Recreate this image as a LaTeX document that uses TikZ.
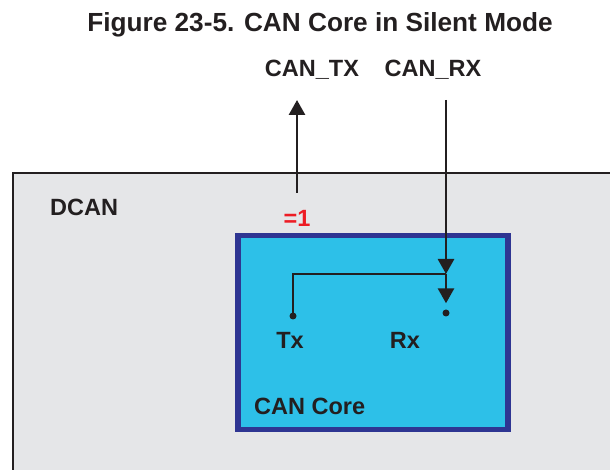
\documentclass[tikz,border=0pt]{standalone}
\usepackage{fontspec}
\setmainfont{Liberation Sans}
\usepackage{tikz}
\usetikzlibrary{arrows.meta,positioning}
\definecolor{dcangray}{HTML}{E5E6E8}
\definecolor{coreblue}{HTML}{2DC0E8}
\definecolor{coreedge}{HTML}{2E3592}
\definecolor{inkdark}{HTML}{231F20}
\definecolor{onered}{HTML}{ED1C24}
\tikzset{
  lbl/.style={
    font=\fontsize{23.5}{28}\selectfont\bfseries,
    text=inkdark,
    inner sep=0pt
  },
  corebox/.style={
    draw=coreedge,
    fill=coreblue,
    line width=5.5pt,
    minimum width=270pt,
    minimum height=194pt
  },
  pin/.style={
    circle,
    fill=inkdark,
    inner sep=0pt,
    minimum size=7pt
  },
  sigarrow/.style={
    -{Triangle[length=15pt,width=16pt]},
    line width=2.8pt,
    draw=inkdark
  },
  sigline/.style={
    line width=2.8pt,
    draw=inkdark
  }
}
\begin{document}
\begin{tikzpicture}[x=1pt,y=1pt]
\useasboundingbox (0,0) rectangle (610,470);
% DCAN block (runs off the page at right and bottom)
\begin{scope}
\clip (0,0) rectangle (610,470);
\fill[dcangray] (13,-20) rectangle (640,297);
\draw[line width=2.8pt, inkdark] (13,-20) -- (13,297) -- (640,297);
\end{scope}
\node[lbl, anchor=west] (dcan) at (50,263) {DCAN};

\node[lbl, font=\fontsize{26.2}{31}\selectfont\bfseries] (title) at (320,445) {Figure 23-5. CAN Core in Silent Mode};
\node[lbl] (cantx) at (312,400) {CAN\_TX};
\node[lbl] (canrx) at (433,400) {CAN\_RX};

% CAN core
\node[corebox] (core) at (373,137.5) {};
\node[lbl, anchor=west] (corelbl) at (254,64) {CAN Core};
\node[pin] (txpin) at (293,154) {};
\node[pin] (rxpin) at (446,157) {};
\node[lbl] (txlbl) at (290,130) {Tx};
\node[lbl] (rxlbl) at (405,130) {Rx};

\coordinate (txtop) at (297,370);
\coordinate (txbot) at (297,277);
\coordinate (rxtop) at (446,370);
\coordinate (loop) at (446,196);
\node[lbl, text=onered] (force) at (297,252) {=1};

\draw[sigarrow] (txbot) -- (txtop);
\draw[sigarrow] (rxtop) -- (loop);
\draw[sigline] (txpin.center) |- (loop);
\draw[sigarrow, shorten >=6pt] (loop) -- (rxpin);
\end{tikzpicture}
\end{document}
